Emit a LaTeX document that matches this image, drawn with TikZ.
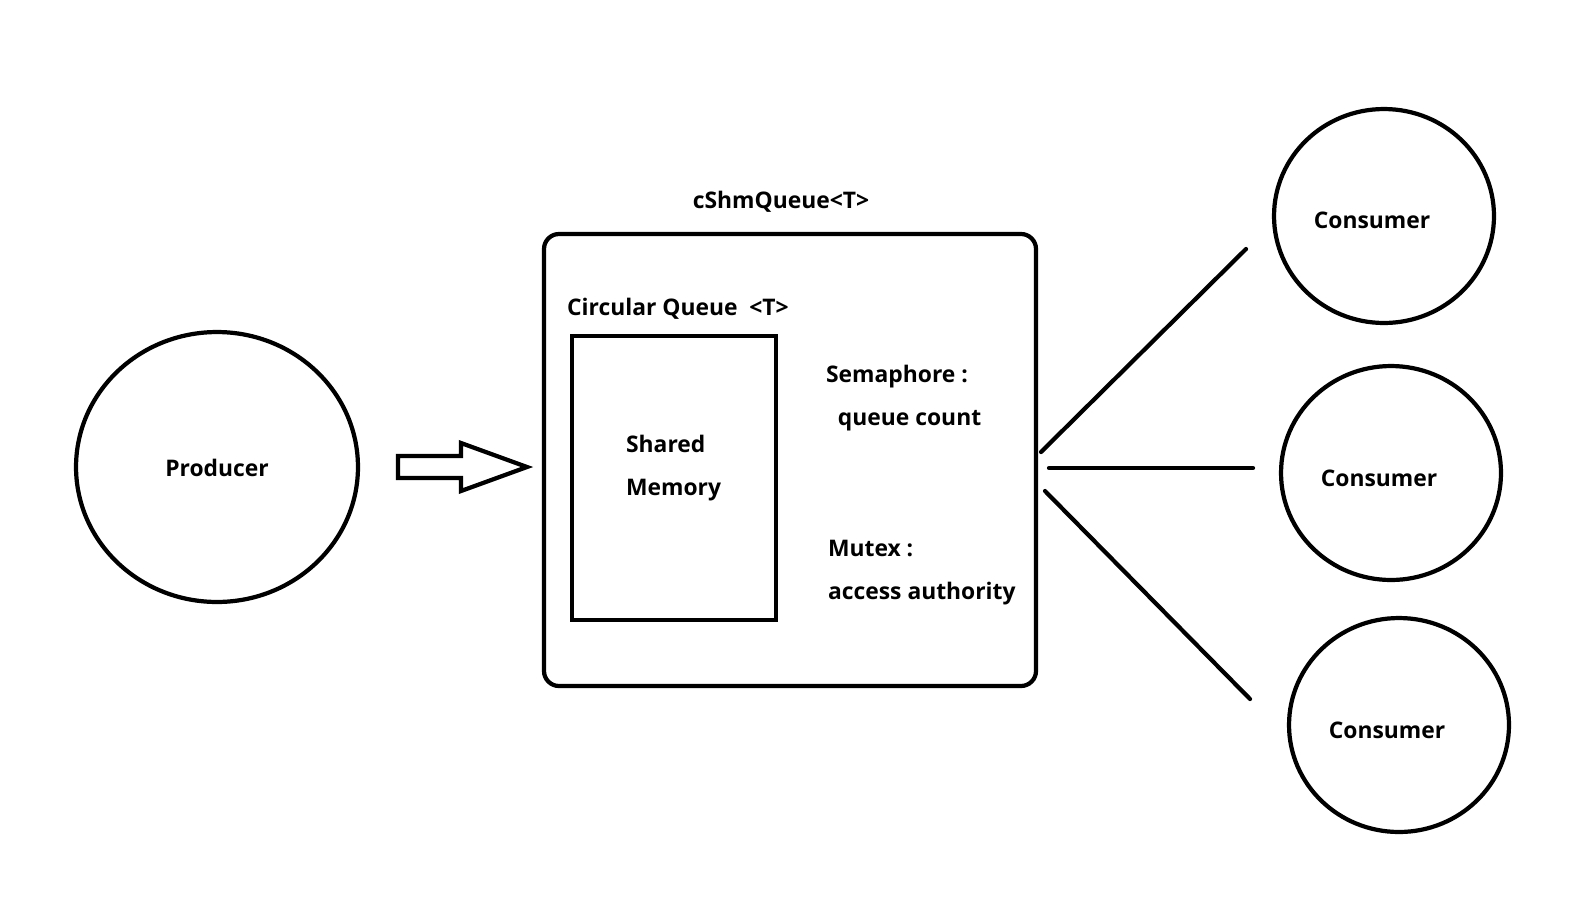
\documentclass[tikz,border=0pt]{standalone}
\usepackage{fontspec}
\setmainfont{Open Sans}
\usetikzlibrary{shapes.geometric,positioning}

\begin{document}
\begin{tikzpicture}[x=0.02cm,y=-0.02cm,line width=2.4pt,
  proc/.style={draw,ellipse,minimum width=5.64cm,minimum height=5.4cm},
  cons/.style={draw,ellipse,minimum width=4.4cm,minimum height=4.28cm},
  lbl/.style={font=\bfseries\fontsize{13}{15.5}\selectfont,inner sep=0pt,anchor=west,align=left},
  wire/.style={line cap=round}
]
\useasboundingbox (0,0) rectangle (1572,920);
% producer and consumers
\node[proc] (prod) at (217,467) {};
\node[lbl,anchor=center] at (217,468) {Producer};
\node[cons] (c1) at (1384,216) {};
\node[cons] (c2) at (1391,473) {};
\node[cons] (c3) at (1399,725) {};
\node[lbl,anchor=center] at (1372,220) {Consumer};
\node[lbl,anchor=center] at (1379,478) {Consumer};
\node[lbl,anchor=center] at (1387,730) {Consumer};
% shared queue
\draw[rounded corners=0.3cm] (544,234) rectangle (1036,686);
\node[draw,minimum width=4.08cm,minimum height=5.68cm,inner sep=0pt] (shm) at (674,478) {};
\node[lbl,anchor=center] (title) at (781,202) {cShmQueue<T>};
\node[lbl] (cq) at (565,309) {Circular Queue\ \ <T>};
\node[lbl] (mem) at (624,468) {Shared\\[9pt]Memory};
\node[lbl] (sem) at (824,398) {Semaphore :\\[9pt]\ \ queue count};
\node[lbl] (mtx) at (826,573) {Mutex :\\[9pt]access authority};
% block arrow
\draw[line join=miter] (398,456) -- (461,456) -- (461,443) -- (527,467)
  -- (461,491) -- (461,478) -- (398,478) -- cycle;
% fan out
\coordinate (o1) at (1041,452);
\coordinate (o2) at (1049,468);
\coordinate (o3) at (1045,491);
\coordinate (e1) at (1246,249);
\coordinate (e2) at (1253,468);
\coordinate (e3) at (1250,699);
\draw[wire] (o1) -- (e1);
\draw[wire] (o2) -- (e2);
\draw[wire] (o3) -- (e3);
\end{tikzpicture}
\end{document}
